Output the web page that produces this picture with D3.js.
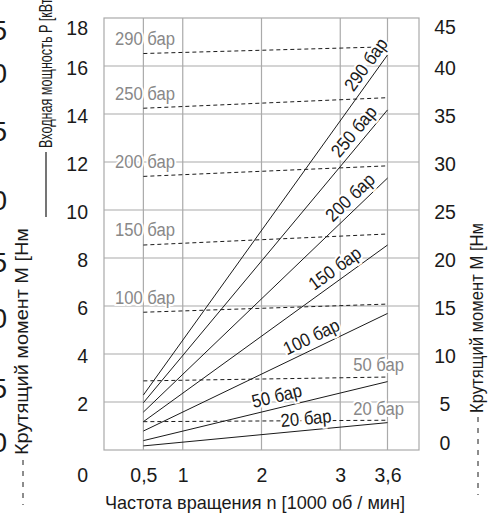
<!DOCTYPE html>
<html>
<head>
<meta charset="utf-8">
<script src="https://cdn.jsdelivr.net/npm/d3@7"></script>
<style>
  body { margin: 0; background: #fff; }
  svg { display: block; font-family: "Liberation Sans", Arial, sans-serif; }
</style>
</head>
<body>
<svg id="canvas" width="496" height="515"></svg>
<script>
// pressure curves, bar
const pressures = [290, 250, 200, 150, 100, 50, 20];
// speed range of every curve, 1000 rpm
const speeds = [0.5, 3.6];
// input power P, kW (left axis) at 0.5 and at 3.6
const powerStart = [2.29, 1.97, 1.58, 1.18, 0.79, 0.39, 0.17];
const powerEnd = [16.46, 14.17, 11.33, 8.54, 5.69, 2.85, 1.14];
// torque M, Nm (right axis) at 0.5 and at 3.6
const torqueStart = [41.3, 35.6, 28.5, 21.35, 14.35, 7.2, 2.95];
const torqueEnd = [42.0, 36.7, 29.6, 22.5, 15.2, 7.6, 3.1];
// where the black labels sit along the power lines
const labelSpeed = [3.45, 3.29, 3.23, 3.02, 2.7, 2.23, 2.58];

const speedTicks = [0.5, 1, 2, 3, 3.6];
const speedTickLabels = ["0,5", "1", "2", "3", "3,6"];
const powerTicks = [0, 2, 4, 6, 8, 10, 12, 14, 16, 18];
const torqueTicks = [0, 5, 10, 15, 20, 25, 30, 35, 40, 45];

// cut-off digits of the neighbouring chart at the left edge
const edgeDigits = ["5", "0", "5", "0", "5", "0", "5", "0"];
const edgeDigitY = [30, 73, 131, 200, 262, 318, 388, 442];

const canvas = d3.select("#canvas");

const x = d3.scaleLinear().domain([0, 4]).range([104, 419]);
const yL = d3.scaleLinear().domain([0, 18]).range([450, 18]);
const yR = d3.scaleLinear().domain([0, 45]).range([450, 18]);

const gridColor = "#aaaaaa";
const grey = "#888888";
const ink = "#1a1a1a";
const squeeze = 0.9;

// grid
const grid = canvas.append("g");
grid
  .selectAll(".hgrid")
  .data(powerTicks.slice(1, -1))
  .enter()
  .append("line")
  .attr("x1", x(0))
  .attr("x2", x(4))
  .attr("y1", (d) => yL(d))
  .attr("y2", (d) => yL(d))
  .attr("stroke", gridColor)
  .attr("stroke-width", 1.2);
grid
  .selectAll(".vgrid")
  .data(speedTicks)
  .enter()
  .append("line")
  .attr("x1", (d) => x(d))
  .attr("x2", (d) => x(d))
  .attr("y1", yL(0))
  .attr("y2", yL(18))
  .attr("stroke", gridColor)
  .attr("stroke-width", 1.2);
grid
  .append("rect")
  .attr("x", x(0))
  .attr("y", yL(18))
  .attr("width", x(4) - x(0))
  .attr("height", yL(0) - yL(18))
  .attr("fill", "none")
  .attr("stroke", gridColor)
  .attr("stroke-width", 1.2);

// axes
const bottomAxis = canvas
  .append("g")
  .attr("transform", `translate(0, ${yL(0)})`)
  .call(
    d3
      .axisBottom(x)
      .tickValues(speedTicks)
      .tickFormat((d, i) => speedTickLabels[i])
      .tickSize(0)
      .tickPadding(18)
  );

const leftAxis = canvas
  .append("g")
  .attr("transform", `translate(${x(0)}, 0)`)
  .call(d3.axisLeft(yL).tickValues(powerTicks).tickSize(0).tickPadding(16));
leftAxis
  .selectAll(".tick text")
  .attr("y", (d) => (d === 0 ? 25 : d === 18 ? 10 : 2));

const rightAxis = canvas
  .append("g")
  .attr("transform", `translate(${x(4)}, 0)`)
  .call(d3.axisRight(yR).tickValues(torqueTicks).tickSize(0).tickPadding(26));
rightAxis
  .selectAll(".tick text")
  .attr("text-anchor", "middle")
  .attr("y", (d) => (d === 0 ? -7 : d === 45 ? 9 : 2));

[bottomAxis, leftAxis, rightAxis].forEach((a) => {
  a.select(".domain").remove();
  a.selectAll("text")
    .attr("font-size", 19.5)
    .attr("font-family", "Liberation Sans, Arial, sans-serif")
    .attr("fill", ink);
});

// lines
const idx = d3.range(pressures.length);

canvas
  .selectAll(".power")
  .data(idx)
  .enter()
  .append("line")
  .attr("class", "power")
  .attr("x1", x(speeds[0]))
  .attr("x2", x(speeds[1]))
  .attr("y1", (i) => yL(powerStart[i]))
  .attr("y2", (i) => yL(powerEnd[i]))
  .attr("stroke", ink)
  .attr("stroke-width", 1);

canvas
  .selectAll(".torque")
  .data(idx)
  .enter()
  .append("line")
  .attr("class", "torque")
  .attr("x1", x(speeds[0]))
  .attr("x2", x(speeds[1]))
  .attr("y1", (i) => yR(torqueStart[i]))
  .attr("y2", (i) => yR(torqueEnd[i]))
  .attr("stroke", ink)
  .attr("stroke-width", 1)
  .attr("stroke-dasharray", "4,3");

// grey torque labels
canvas
  .selectAll(".tlabel")
  .data(idx)
  .enter()
  .append("text")
  .attr("class", "tlabel")
  .attr("transform", (i) => {
    const tx = i < 5 ? 115 : 404;
    const ty = i < 5 ? yR(torqueStart[i]) - 15 : yR(torqueEnd[i]) - 12;
    return `translate(${tx}, ${ty}) scale(${squeeze}, 1)`;
  })
  .attr("text-anchor", (i) => (i < 5 ? "start" : "end"))
  .attr("dominant-baseline", "central")
  .attr("font-size", 18.5)
  .attr("fill", grey)
  .attr("stroke", "#fff")
  .attr("stroke-width", 4)
  .attr("paint-order", "stroke")
  .text((i) => pressures[i] + " бар");

// black power labels along the lines
canvas
  .selectAll(".plabel")
  .data(idx)
  .enter()
  .append("text")
  .attr("class", "plabel")
  .attr("transform", (i) => {
    const t = (labelSpeed[i] - speeds[0]) / (speeds[1] - speeds[0]);
    const p = powerStart[i] + (powerEnd[i] - powerStart[i]) * t;
    const ang =
      (Math.atan2(
        yL(powerEnd[i]) - yL(powerStart[i]),
        x(speeds[1]) - x(speeds[0])
      ) *
        180) /
      Math.PI;
    return `translate(${x(labelSpeed[i])}, ${yL(p)}) rotate(${ang}) translate(0, -12) scale(${squeeze}, 1)`;
  })
  .attr("text-anchor", "middle")
  .attr("dominant-baseline", "central")
  .attr("font-size", 18.5)
  .attr("fill", ink)
  .attr("stroke", "#fff")
  .attr("stroke-width", 4)
  .attr("paint-order", "stroke")
  .text((i) => pressures[i] + " бар");

// axis titles
canvas
  .append("text")
  .attr("x", 105)
  .attr("y", 509)
  .attr("font-size", 19)
  .attr("fill", ink)
  .attr("textLength", 300)
  .attr("lengthAdjust", "spacingAndGlyphs")
  .text("Частота вращения n [1000 об / мин]");

canvas
  .append("text")
  .attr("transform", "translate(28, 455) rotate(-90)")
  .attr("font-size", 18.5)
  .attr("fill", ink)
  .attr("textLength", 227)
  .attr("lengthAdjust", "spacingAndGlyphs")
  .text("Крутящий момент M [Нм");
canvas
  .append("line")
  .attr("x1", 23)
  .attr("x2", 23)
  .attr("y1", 460)
  .attr("y2", 505)
  .attr("stroke", ink)
  .attr("stroke-dasharray", "5,6");

canvas
  .append("text")
  .attr("transform", "translate(52, 148) rotate(-90)")
  .attr("font-size", 18)
  .attr("fill", ink)
  .attr("textLength", 153)
  .attr("lengthAdjust", "spacingAndGlyphs")
  .text("Входная мощность P [кВт]");
canvas
  .append("line")
  .attr("x1", 46)
  .attr("x2", 46)
  .attr("y1", 152)
  .attr("y2", 217)
  .attr("stroke", ink)
  .attr("stroke-width", 1.2);

canvas
  .append("text")
  .attr("transform", "translate(483, 413) rotate(-90)")
  .attr("font-size", 18.5)
  .attr("fill", ink)
  .attr("textLength", 190)
  .attr("lengthAdjust", "spacingAndGlyphs")
  .text("Крутящий момент M [Нм");
canvas
  .append("line")
  .attr("x1", 478)
  .attr("x2", 478)
  .attr("y1", 417)
  .attr("y2", 495)
  .attr("stroke", ink)
  .attr("stroke-dasharray", "5,6");

// left edge remnants
canvas
  .selectAll(".edge")
  .data(edgeDigits)
  .enter()
  .append("text")
  .attr("class", "edge")
  .attr("x", 7)
  .attr("y", (d, i) => edgeDigitY[i])
  .attr("text-anchor", "end")
  .attr("dominant-baseline", "central")
  .attr("font-size", 28)
  .attr("fill", ink)
  .text((d) => d);
</script>
</body>
</html>
